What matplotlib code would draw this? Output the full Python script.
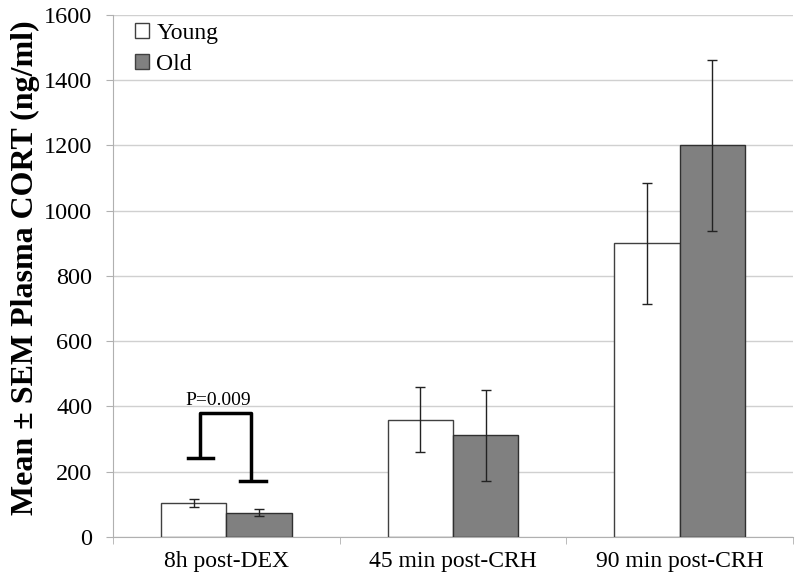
import matplotlib
matplotlib.use("Agg")
import matplotlib.pyplot as plt
import numpy as np
from matplotlib.patches import Patch

categories = ["8h post-DEX", "45 min post-CRH", "90 min post-CRH"]
young = [105, 360, 900]
young_err = [12, 100, 185]
old = [75, 312, 1200]
old_err = [10, 140, 262]
yticks = [0, 200, 400, 600, 800, 1000, 1200, 1400, 1600]

plt.rcParams['font.family'] = ['Liberation Serif', 'DejaVu Serif']

fig = plt.figure(figsize=(8, 5.87), dpi=100)
ax = fig.add_axes([0.1413, 0.0852, 0.8500, 0.8893])

x = np.arange(len(categories))
w = 0.288
ax.bar(x - w/2, young, w, color='white', edgecolor='#404040', linewidth=1.0, zorder=3, label='Young')
ax.bar(x + w/2, old, w, color='#808080', edgecolor='#303030', linewidth=1.0, zorder=3, label='Old')
ax.errorbar(x - w/2, young, yerr=young_err, fmt='none', ecolor='#222222', elinewidth=1.0, capsize=3.5, capthick=1.0, zorder=4)
ax.errorbar(x + w/2, old, yerr=old_err, fmt='none', ecolor='#222222', elinewidth=1.0, capsize=3.5, capthick=1.0, zorder=4)

ax.set_xlim(-0.5, 2.5)
ax.set_ylim(0, 1600)
ax.set_yticks(yticks)
ax.set_yticklabels([str(t) for t in yticks], fontsize=17.5)
ax.set_xticks(x)
ax.set_xticklabels(categories, fontsize=17)
ax.set_xticks([-0.5, 0.5, 1.5, 2.5], minor=True)
ax.tick_params(axis='x', which='major', length=0, pad=10)
ax.tick_params(axis='x', which='minor', length=5, color='#b0b0b0')
ax.tick_params(axis='y', length=5, color='#b0b0b0', pad=10)
ax.yaxis.grid(True, color='#d0d0d0', linewidth=1.0, zorder=0)
ax.set_axisbelow(True)
for s in ['top', 'right']:
    ax.spines[s].set_visible(False)
ax.spines['left'].set_color('#b0b0b0')
ax.spines['bottom'].set_color('#b0b0b0')

ax.set_ylabel('Mean ± SEM Plasma CORT (ng/ml)', fontsize=23, fontweight='bold')
ax.yaxis.set_label_coords(-0.108, 0.515)

# significance bracket
lw = 2.5
ax.plot([-0.115, -0.115, 0.11, 0.11], [241, 379, 379, 171], color='black', linewidth=lw, zorder=5, solid_capstyle='butt')
ax.plot([-0.168, -0.058], [241, 241], color='black', linewidth=lw, zorder=5)
ax.plot([0.062, 0.177], [171, 171], color='black', linewidth=lw, zorder=5)
ax.text(-0.035, 393, 'P=0.009', ha='center', va='bottom', fontsize=14)

handles = [Patch(facecolor='white', edgecolor='#404040', label='Young'),
           Patch(facecolor='#808080', edgecolor='#404040', label='Old')]
ax.legend(handles=handles, loc='upper left', bbox_to_anchor=(0.008, 1.016), frameon=False,
          fontsize=17, handlelength=0.6, handleheight=0.6, handletextpad=0.3, labelspacing=0.4,
          borderaxespad=0.3)

fig.savefig('out.png', dpi=100)
